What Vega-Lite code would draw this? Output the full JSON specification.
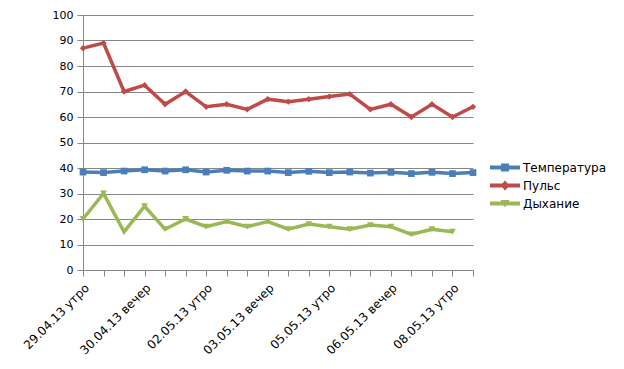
{
  "$schema": "https://vega.github.io/schema/vega-lite/v6.json",
  "width": 390,
  "height": 255,
  "autosize": {"type": "none"},
  "padding": {"left": 83, "top": 15, "right": 151, "bottom": 99},
  "background": "white",
  "config": {
    "view": {"stroke": null},
    "font": "DejaVu Sans",
    "axis": {"labelFont": "DejaVu Sans", "labelColor": "#000000", "domainColor": "#868686", "tickColor": "#868686", "gridColor": "#868686", "tickSize": 6}
  },
  "data": {
    "values": [
      {"t": "29.04.13 утро", "s": "Температура", "v": 38.4},
      {"t": "29.04.13 вечер", "s": "Температура", "v": 38.2},
      {"t": "30.04.13 утро", "s": "Температура", "v": 38.8},
      {"t": "30.04.13 вечер", "s": "Температура", "v": 39.3},
      {"t": "01.05.13 утро", "s": "Температура", "v": 38.8},
      {"t": "01.05.13 вечер", "s": "Температура", "v": 39.3},
      {"t": "02.05.13 утро", "s": "Температура", "v": 38.4},
      {"t": "02.05.13 вечер", "s": "Температура", "v": 39.1},
      {"t": "03.05.13 утро", "s": "Температура", "v": 38.8},
      {"t": "03.05.13 вечер", "s": "Температура", "v": 38.8},
      {"t": "04.05.13 утро", "s": "Температура", "v": 38.2},
      {"t": "04.05.13 вечер", "s": "Температура", "v": 38.7},
      {"t": "05.05.13 утро", "s": "Температура", "v": 38.2},
      {"t": "05.05.13 вечер", "s": "Температура", "v": 38.4},
      {"t": "06.05.13 утро", "s": "Температура", "v": 38.0},
      {"t": "06.05.13 вечер", "s": "Температура", "v": 38.3},
      {"t": "07.05.13 утро", "s": "Температура", "v": 37.8},
      {"t": "07.05.13 вечер", "s": "Температура", "v": 38.3},
      {"t": "08.05.13 утро", "s": "Температура", "v": 37.8},
      {"t": "08.05.13 вечер", "s": "Температура", "v": 38.2},
      {"t": "29.04.13 утро", "s": "Пульс", "v": 87},
      {"t": "29.04.13 вечер", "s": "Пульс", "v": 89},
      {"t": "30.04.13 утро", "s": "Пульс", "v": 70},
      {"t": "30.04.13 вечер", "s": "Пульс", "v": 72.5},
      {"t": "01.05.13 утро", "s": "Пульс", "v": 65},
      {"t": "01.05.13 вечер", "s": "Пульс", "v": 70},
      {"t": "02.05.13 утро", "s": "Пульс", "v": 64},
      {"t": "02.05.13 вечер", "s": "Пульс", "v": 65},
      {"t": "03.05.13 утро", "s": "Пульс", "v": 63},
      {"t": "03.05.13 вечер", "s": "Пульс", "v": 67},
      {"t": "04.05.13 утро", "s": "Пульс", "v": 66},
      {"t": "04.05.13 вечер", "s": "Пульс", "v": 67},
      {"t": "05.05.13 утро", "s": "Пульс", "v": 68},
      {"t": "05.05.13 вечер", "s": "Пульс", "v": 69},
      {"t": "06.05.13 утро", "s": "Пульс", "v": 63},
      {"t": "06.05.13 вечер", "s": "Пульс", "v": 65},
      {"t": "07.05.13 утро", "s": "Пульс", "v": 60},
      {"t": "07.05.13 вечер", "s": "Пульс", "v": 65},
      {"t": "08.05.13 утро", "s": "Пульс", "v": 60},
      {"t": "08.05.13 вечер", "s": "Пульс", "v": 64},
      {"t": "29.04.13 утро", "s": "Дыхание", "v": 20},
      {"t": "29.04.13 вечер", "s": "Дыхание", "v": 30},
      {"t": "30.04.13 утро", "s": "Дыхание", "v": 15},
      {"t": "30.04.13 вечер", "s": "Дыхание", "v": 25},
      {"t": "01.05.13 утро", "s": "Дыхание", "v": 16},
      {"t": "01.05.13 вечер", "s": "Дыхание", "v": 20},
      {"t": "02.05.13 утро", "s": "Дыхание", "v": 17},
      {"t": "02.05.13 вечер", "s": "Дыхание", "v": 19},
      {"t": "03.05.13 утро", "s": "Дыхание", "v": 17},
      {"t": "03.05.13 вечер", "s": "Дыхание", "v": 19},
      {"t": "04.05.13 утро", "s": "Дыхание", "v": 16},
      {"t": "04.05.13 вечер", "s": "Дыхание", "v": 18},
      {"t": "05.05.13 утро", "s": "Дыхание", "v": 17},
      {"t": "05.05.13 вечер", "s": "Дыхание", "v": 16},
      {"t": "06.05.13 утро", "s": "Дыхание", "v": 17.6},
      {"t": "06.05.13 вечер", "s": "Дыхание", "v": 17},
      {"t": "07.05.13 утро", "s": "Дыхание", "v": 14},
      {"t": "07.05.13 вечер", "s": "Дыхание", "v": 16},
      {"t": "08.05.13 утро", "s": "Дыхание", "v": 15}
    ]
  },
  "encoding": {
    "x": {
      "field": "t", "type": "nominal", "sort": null,
      "scale": {"type": "point", "padding": 0},
      "axis": {
        "title": null, "labelAngle": -45, "labelFontSize": 12, "labelPadding": 6,
        "labelExpr": "indexof(['29.04.13 утро','30.04.13 вечер','02.05.13 утро','03.05.13 вечер','05.05.13 утро','06.05.13 вечер','08.05.13 утро'], datum.value) >= 0 ? datum.label : ''"
      }
    },
    "y": {
      "field": "v", "type": "quantitative",
      "scale": {"domain": [0, 100], "nice": false},
      "axis": {"title": null, "values": [0,10,20,30,40,50,60,70,80,90,100], "labelFontSize": 11, "labelPadding": 4, "grid": true, "domain": true}
    },
    "color": {
      "field": "s", "type": "nominal",
      "scale": {"domain": ["Температура", "Пульс", "Дыхание"], "range": ["#4A7EBB", "#BE4B48", "#98B954"]}
    }
  },
  "layer": [
    {
      "mark": {"type": "line", "strokeWidth": 3.5},
      "encoding": {
        "color": {
          "field": "s", "type": "nominal",
          "scale": {"domain": ["Температура", "Пульс", "Дыхание"], "range": ["#4A7EBB", "#BE4B48", "#98B954"]},
          "legend": {
            "title": null, "orient": "none", "legendX": 407, "legendY": 145,
            "symbolSize": 225, "rowPadding": 4, "labelOffset": 18,
            "labelFont": "DejaVu Sans", "labelFontSize": 12, "labelColor": "#000000",
            "symbolStrokeWidth": 0,
            "encode": {
              "symbols": {
                "update": {
                  "shape": {"signal": "datum.value === 'Температура' ? 'M-1,-0.27H3V0.27H-1Z M0.47,-0.53H1.53V0.53H0.47Z' : datum.value === 'Пульс' ? 'M-1,-0.27H3V0.27H-1Z M1,-0.67L1.6,0L1,0.67L0.4,0Z' : 'M-1,-0.27H3V0.27H-1Z M0.4,-0.47H1.6L1,0.53Z'"},
                  "fill": {"scale": "color", "field": "value"},
                  "fillOpacity": {"value": 1},
                  "strokeWidth": {"value": 0}
                }
              }
            }
          }
        }
      }
    },
    {
      "transform": [{"filter": "datum.s === 'Температура'"}],
      "mark": {"type": "point", "filled": true, "opacity": 1, "size": 45, "shape": "square"}
    },
    {
      "transform": [{"filter": "datum.s === 'Пульс'"}],
      "mark": {"type": "point", "filled": true, "opacity": 1, "size": 40, "shape": "diamond"}
    },
    {
      "transform": [{"filter": "datum.s === 'Дыхание'"}],
      "mark": {"type": "point", "filled": true, "opacity": 1, "size": 45, "shape": "triangle-down"}
    }
  ]
}
